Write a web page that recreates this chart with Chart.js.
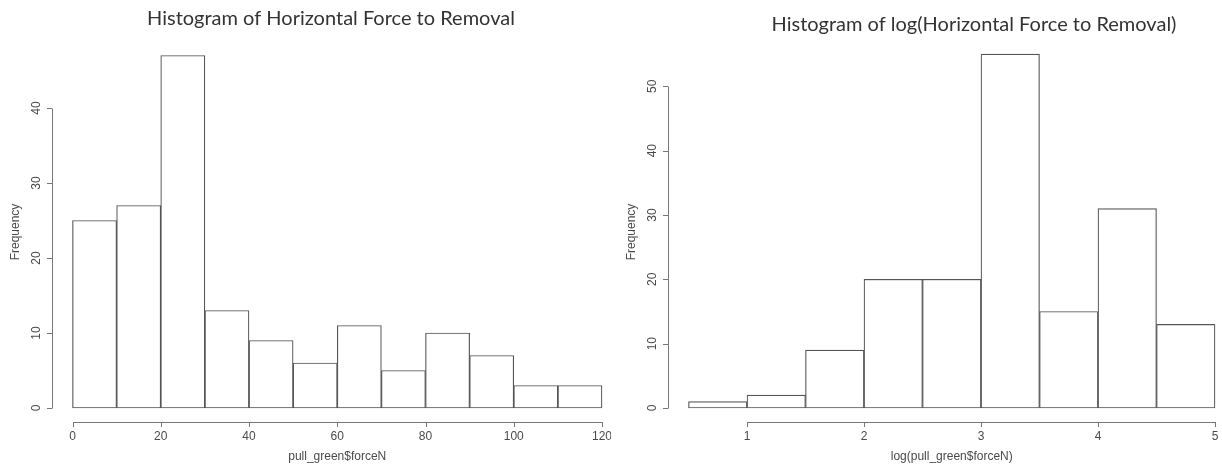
<!DOCTYPE html>
<html>
<head>
<meta charset="utf-8">
<script src="https://cdn.jsdelivr.net/npm/chart.js@4.4.1/dist/chart.umd.min.js"></script>
<style>
  body { margin: 0; background: #fff; }
  #wrap { position: relative; width: 1222px; height: 468px; }
  canvas { position: absolute; top: 0; }
</style>
</head>
<body>
<div id="wrap">
  <canvas id="forceChart" width="611" height="468" style="left:0"></canvas>
  <canvas id="logChart" width="611" height="468" style="left:611px"></canvas>
</div>
<script>
// histogram bins and counts
const forceBreaks = [0, 10, 20, 30, 40, 50, 60, 70, 80, 90, 100, 110, 120];
const forceCounts = [25, 27, 47, 13, 9, 6, 11, 5, 10, 7, 3, 3];
const forceXTicks = [0, 20, 40, 60, 80, 100, 120];
const forceYTicks = [0, 10, 20, 30, 40];

const logBreaks = [0.5, 1, 1.5, 2, 2.5, 3, 3.5, 4, 4.5, 5];
const logCounts = [1, 2, 9, 20, 20, 55, 15, 31, 13];
const logXTicks = [1, 2, 3, 4, 5];
const logYTicks = [0, 10, 20, 30, 40, 50];

const INK = '#4a4a4a';
const AXIS = '#777';
const TICK_FONT = '12px "Liberation Sans", Arial, sans-serif';

function binPoints(breaks, counts) {
  return counts.map((c, i) => ({ x: (breaks[i] + breaks[i + 1]) / 2, y: c }));
}

// base-R style axes: detached from the plot box, ticks outward
const rAxes = {
  id: 'rAxes',
  afterDraw(chart, args, opts) {
    const ctx = chart.ctx;
    const xs = chart.scales.x, ys = chart.scales.y;
    const area = chart.chartArea;
    const axY = Math.round(area.bottom + 14);
    const axX = Math.round(area.left - 21);

    ctx.save();
    ctx.strokeStyle = AXIS;
    ctx.lineWidth = 1;
    ctx.fillStyle = INK;
    ctx.font = TICK_FONT;

    // x axis
    const x0 = Math.round(xs.getPixelForValue(opts.xTicks[0])) + 0.5;
    const x1 = Math.round(xs.getPixelForValue(opts.xTicks[opts.xTicks.length - 1])) + 0.5;
    ctx.beginPath();
    ctx.moveTo(x0, axY + 0.5);
    ctx.lineTo(x1, axY + 0.5);
    opts.xTicks.forEach(v => {
      const px = Math.round(xs.getPixelForValue(v)) + 0.5;
      ctx.moveTo(px, axY);
      ctx.lineTo(px, axY + 5);
    });
    ctx.stroke();
    ctx.textAlign = 'center';
    ctx.textBaseline = 'middle';
    opts.xTicks.forEach(v => {
      ctx.fillText(String(v), xs.getPixelForValue(v), axY + 15);
    });
    ctx.fillText(opts.xLabel, (area.left + area.right) / 2, axY + 35);

    // y axis
    const y0 = Math.round(ys.getPixelForValue(opts.yTicks[0])) + 0.5;
    const y1 = Math.round(ys.getPixelForValue(opts.yTicks[opts.yTicks.length - 1])) + 0.5;
    ctx.beginPath();
    ctx.moveTo(axX + 0.5, y0);
    ctx.lineTo(axX + 0.5, y1);
    opts.yTicks.forEach(v => {
      const py = Math.round(ys.getPixelForValue(v)) + 0.5;
      ctx.moveTo(axX, py);
      ctx.lineTo(axX - 5, py);
    });
    ctx.stroke();
    opts.yTicks.forEach(v => {
      ctx.save();
      ctx.translate(axX - 15, ys.getPixelForValue(v));
      ctx.rotate(-Math.PI / 2);
      ctx.fillText(String(v), 0, 0);
      ctx.restore();
    });
    ctx.save();
    ctx.translate(axX - 36, opts.yLabelY);
    ctx.rotate(-Math.PI / 2);
    ctx.fillText('Frequency', 0, 0);
    ctx.restore();

    // main title
    ctx.font = '20px Lato, "Open Sans", sans-serif';
    ctx.fillStyle = '#333';
    ctx.fillText(opts.title, opts.titleX, opts.titleY);
    ctx.restore();
  }
};

function makeHist(id, breaks, counts, yMax, padding, axisOpts) {
  return new Chart(document.getElementById(id), {
    type: 'bar',
    data: {
      datasets: [{
        data: binPoints(breaks, counts),
        backgroundColor: '#ffffff',
        borderColor: '#555555',
        borderWidth: 1.2,
        borderSkipped: false,
        barPercentage: 1,
        categoryPercentage: 1,
        clip: 6
      }]
    },
    options: {
      responsive: false,
      animation: false,
      layout: { padding: padding },
      plugins: {
        legend: { display: false },
        tooltip: { enabled: false },
        rAxes: axisOpts
      },
      scales: {
        x: { type: 'linear', display: false, min: breaks[0], max: breaks[breaks.length - 1], offset: false },
        y: { display: false, min: 0, max: yMax }
      }
    },
    plugins: [rAxes]
  });
}

makeHist('forceChart', forceBreaks, forceCounts, 50,
  { left: 72.5, right: 9, top: 33, bottom: 60 },
  {
    title: 'Histogram of Horizontal Force to Removal',
    titleX: 331, titleY: 19,
    xLabel: 'pull_green$forceN',
    xTicks: forceXTicks, yTicks: forceYTicks, yLabelY: 232
  });

makeHist('logChart', logBreaks, logCounts, 60,
  { left: 77.5, right: 7, top: 22, bottom: 60 },
  {
    title: 'Histogram of log(Horizontal Force to Removal)',
    titleX: 363, titleY: 25,
    xLabel: 'log(pull_green$forceN)',
    xTicks: logXTicks, yTicks: logYTicks, yLabelY: 232
  });
</script>
</body>
</html>
